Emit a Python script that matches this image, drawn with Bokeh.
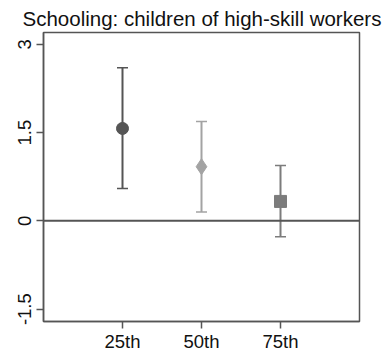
from bokeh.plotting import figure
from bokeh.models import FixedTicker, Span, Range1d
from bokeh.embed import file_html
from bokeh.resources import INLINE

# data
categories = ["25th", "50th", "75th"]
positions = [1, 2, 3]
estimates = [1.57, 0.92, 0.33]
upper_ci = [2.60, 1.69, 0.94]
lower_ci = [0.55, 0.15, -0.27]
markers = ["circle", "diamond", "square"]
colors = ["#555555", "#a3a3a3", "#7c7c7c"]
sizes = [12, 16, 12]
y_ticks = [-1.5, 0, 1.5, 3]
y_tick_labels = ["-1.5", "0", "1.5", "3"]

FONT = "Liberation Sans"

p = figure(width=383, height=354, output_backend="svg", toolbar_location=None,
           x_range=Range1d(0, 4), y_range=Range1d(-1.71, 3.2),
           title="Schooling: children of high-skill workers")
p.min_border_left = 43
p.min_border_right = 24
p.min_border_bottom = 32
p.min_border_top = 32

p.title.text_font = FONT
p.title.text_font_size = "20.5px"
p.title.text_font_style = "normal"
p.title.text_color = "#111111"
p.title.align = "left"
p.title.offset = -21
p.title.standoff = 5

p.xgrid.visible = False
p.ygrid.visible = False
p.outline_line_color = "#555555"
p.outline_line_width = 1.5
p.background_fill_color = "white"
p.border_fill_color = "white"

for ax in (p.xaxis[0], p.yaxis[0]):
    ax.axis_line_color = "#555555"
    ax.axis_line_width = 1.5
    ax.major_tick_line_color = "#555555"
    ax.major_tick_line_width = 1.5
    ax.major_tick_out = 7
    ax.major_tick_in = 0
    ax.minor_tick_line_color = None
    ax.major_label_text_font = FONT
    ax.major_label_text_font_size = "18.5px"
    ax.major_label_text_color = "#111111"

p.xaxis.ticker = FixedTicker(ticks=positions)
p.xaxis.major_label_overrides = {pp: c for pp, c in zip(positions, categories)}
p.xaxis.major_label_standoff = 2

p.yaxis.ticker = FixedTicker(ticks=y_ticks)
p.yaxis.major_label_overrides = {t: l for t, l in zip(y_ticks, y_tick_labels)}
p.yaxis.major_label_orientation = "vertical"
p.yaxis.major_label_standoff = 5

p.add_layout(Span(location=0, dimension="width", line_color="#555555", line_width=2))

for i in range(len(positions)):
    x = positions[i]
    c = colors[i]
    p.segment(x0=[x], y0=[lower_ci[i]], x1=[x], y1=[upper_ci[i]], line_color=c, line_width=2)
    p.scatter(x=[x, x], y=[lower_ci[i], upper_ci[i]], marker="dash", size=11,
              line_color=c, line_width=1.5)
    p.scatter(x=[x], y=[estimates[i]], marker=markers[i], size=sizes[i],
              fill_color=c, line_color=c)

open("out.html", "w").write(file_html(p, INLINE))
